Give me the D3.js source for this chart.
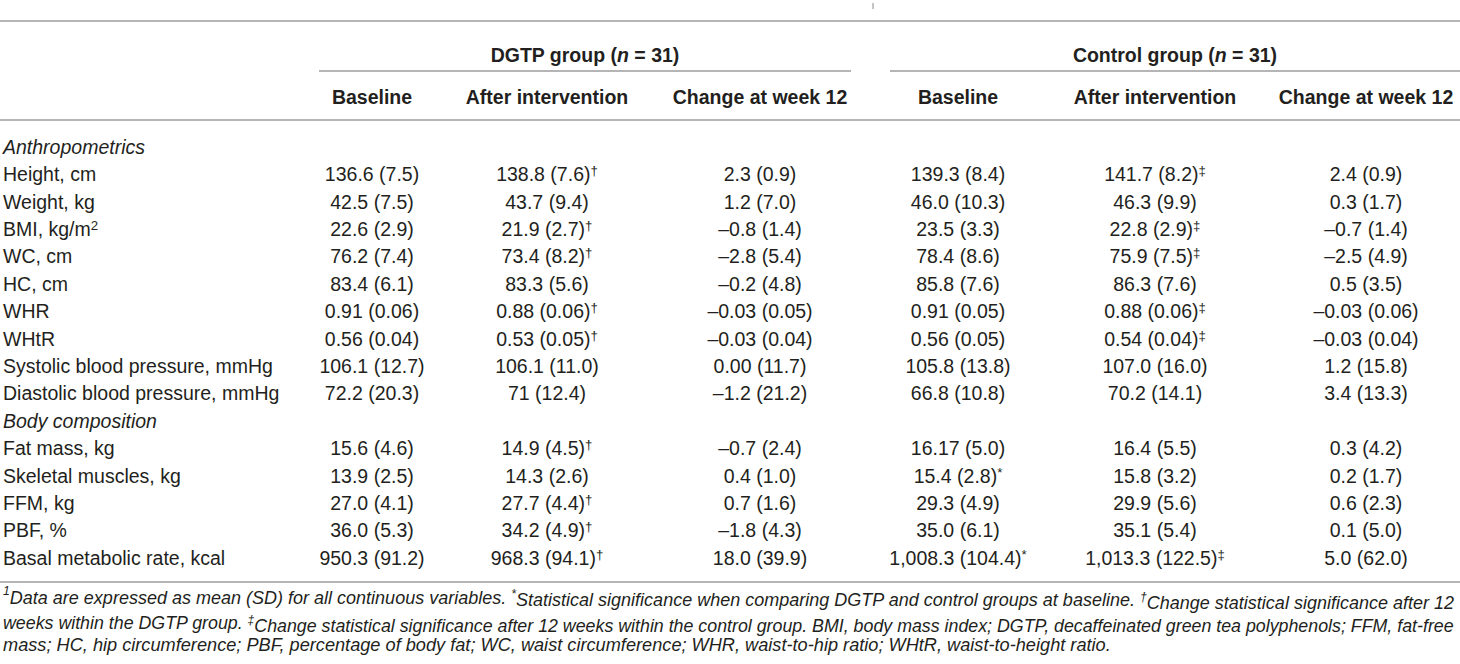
<!DOCTYPE html>
<html>
<head>
<meta charset="utf-8">
<script src="https://cdn.jsdelivr.net/npm/d3@7"></script>
<style>
  html, body { margin: 0; padding: 0; background: #fff; }
  svg { display: block; }
  text { font-family: "Liberation Sans", Arial, Helvetica, sans-serif; fill: #231f20; }
</style>
</head>
<body>
<svg id="chart" width="1460" height="664"></svg>
<script>
// ---------- DATA ----------
const groups = ["DGTP group", "Control group"];
const groupN = [31, 31];
const subHeaders = ["Baseline", "After intervention", "Change at week 12"];

const rowLabels = [
  {label: "Anthropometrics", type: "section"},
  {label: "Height, cm"},
  {label: "Weight, kg"},
  {label: "BMI, kg/m", sup: "2"},
  {label: "WC, cm"},
  {label: "HC, cm"},
  {label: "WHR"},
  {label: "WHtR"},
  {label: "Systolic blood pressure, mmHg"},
  {label: "Diastolic blood pressure, mmHg"},
  {label: "Body composition", type: "section"},
  {label: "Fat mass, kg"},
  {label: "Skeletal muscles, kg"},
  {label: "FFM, kg"},
  {label: "PBF, %"},
  {label: "Basal metabolic rate, kcal"}
];

// "mean (SD)" with optional significance mark after "|"
const dgtpBaseline = [null, "136.6 (7.5)", "42.5 (7.5)", "22.6 (2.9)", "76.2 (7.4)", "83.4 (6.1)", "0.91 (0.06)", "0.56 (0.04)", "106.1 (12.7)", "72.2 (20.3)",
  null, "15.6 (4.6)", "13.9 (2.5)", "27.0 (4.1)", "36.0 (5.3)", "950.3 (91.2)"];
const dgtpAfter = [null, "138.8 (7.6)|†", "43.7 (9.4)", "21.9 (2.7)|†", "73.4 (8.2)|†", "83.3 (5.6)", "0.88 (0.06)|†", "0.53 (0.05)|†", "106.1 (11.0)", "71 (12.4)",
  null, "14.9 (4.5)|†", "14.3 (2.6)", "27.7 (4.4)|†", "34.2 (4.9)|†", "968.3 (94.1)|†"];
const dgtpChange = [null, "2.3 (0.9)", "1.2 (7.0)", "–0.8 (1.4)", "–2.8 (5.4)", "–0.2 (4.8)", "–0.03 (0.05)", "–0.03 (0.04)", "0.00 (11.7)", "–1.2 (21.2)",
  null, "–0.7 (2.4)", "0.4 (1.0)", "0.7 (1.6)", "–1.8 (4.3)", "18.0 (39.9)"];
const ctrlBaseline = [null, "139.3 (8.4)", "46.0 (10.3)", "23.5 (3.3)", "78.4 (8.6)", "85.8 (7.6)", "0.91 (0.05)", "0.56 (0.05)", "105.8 (13.8)", "66.8 (10.8)",
  null, "16.17 (5.0)", "15.4 (2.8)|*", "29.3 (4.9)", "35.0 (6.1)", "1,008.3 (104.4)|*"];
const ctrlAfter = [null, "141.7 (8.2)|‡", "46.3 (9.9)", "22.8 (2.9)|‡", "75.9 (7.5)|‡", "86.3 (7.6)", "0.88 (0.06)|‡", "0.54 (0.04)|‡", "107.0 (16.0)", "70.2 (14.1)",
  null, "16.4 (5.5)", "15.8 (3.2)", "29.9 (5.6)", "35.1 (5.4)", "1,013.3 (122.5)|‡"];
const ctrlChange = [null, "2.4 (0.9)", "0.3 (1.7)", "–0.7 (1.4)", "–2.5 (4.9)", "0.5 (3.5)", "–0.03 (0.06)", "–0.03 (0.04)", "1.2 (15.8)", "3.4 (13.3)",
  null, "0.3 (4.2)", "0.2 (1.7)", "0.6 (2.3)", "0.1 (5.0)", "5.0 (62.0)"];

const columns = [dgtpBaseline, dgtpAfter, dgtpChange, ctrlBaseline, ctrlAfter, ctrlChange];

// footnote lines: segments [text, isSuperscript]
const footnotes = [
  [["1", true], ["Data are expressed as mean (SD) for all continuous variables. ", false], ["*", true], ["Statistical significance when comparing DGTP and control groups at baseline. ", false], ["†", true], ["Change statistical significance after 12", false]],
  [["weeks within the DGTP group. ", false], ["‡", true], ["Change statistical significance after 12 weeks within the control group. BMI, body mass index; DGTP, decaffeinated green tea polyphenols; FFM, fat-free", false]],
  [["mass; HC, hip circumference; PBF, percentage of body fat; WC, waist circumference; WHR, waist-to-hip ratio; WHtR, waist-to-height ratio.", false]]
];

// ---------- LAYOUT ----------
const W = 1460, H = 664;
const fontSize = 19.5;
const svg = d3.select("#chart");

const colX = d3.scaleOrdinal().domain(d3.range(6)).range([372, 547, 760, 958, 1155, 1366]);
const groupSpan = d3.scaleOrdinal().domain([0, 1]).range([[319, 851], [890, 1460]]);
const rowY = d3.scalePoint().domain(d3.range(rowLabels.length)).range([147, 558]);
const footY = d3.scalePoint().domain(d3.range(footnotes.length)).range([601, 645]);

const lineColor = "#9d9d9d";
function hline(x1, x2, y) {
  svg.append("line").attr("x1", x1).attr("x2", x2).attr("y1", y).attr("y2", y)
    .attr("stroke", lineColor).attr("stroke-width", 1.6);
}

// small remnant mark above the table
svg.append("line").attr("x1", 873).attr("x2", 873).attr("y1", 3).attr("y2", 9)
  .attr("stroke", "#8a8a8a").attr("stroke-width", 1);

// rules
hline(0, W, 21);
hline(0, W, 120);
hline(0, W, 582);
groups.forEach((g, i) => { const s = groupSpan(i); hline(s[0], s[1], 71); });

// group headers
groups.forEach((g, i) => {
  const s = groupSpan(i);
  const t = svg.append("text").attr("x", (s[0] + s[1]) / 2).attr("y", 55).attr("dy", "0.35em")
    .attr("text-anchor", "middle").attr("font-size", fontSize).attr("font-weight", "bold");
  t.append("tspan").text(g + " (");
  t.append("tspan").attr("font-style", "italic").text("n");
  t.append("tspan").text(" = " + groupN[i] + ")");
});

// sub headers
d3.range(6).forEach(c => {
  svg.append("text").attr("x", colX(c)).attr("y", 97).attr("dy", "0.35em")
    .attr("text-anchor", "middle").attr("font-size", fontSize).attr("font-weight", "bold")
    .text(subHeaders[c % 3]);
});

// row labels
rowLabels.forEach((r, i) => {
  const t = svg.append("text").attr("x", 3).attr("y", rowY(i)).attr("dy", "0.35em")
    .attr("font-size", fontSize).attr("font-style", r.type === "section" ? "italic" : null);
  t.append("tspan").text(r.label);
  if (r.sup) t.append("tspan").attr("dy", "-0.45em").attr("font-size", fontSize * 0.68).text(r.sup);
});

// cells
columns.forEach((col, c) => {
  col.forEach((v, i) => {
    if (v == null) return;
    const [main, mark] = v.split("|");
    const t = svg.append("text").attr("x", colX(c)).attr("y", rowY(i)).attr("dy", "0.35em")
      .attr("text-anchor", "middle").attr("font-size", fontSize);
    t.append("tspan").text(main);
    if (mark) t.append("tspan").attr("dy", "-0.45em").attr("font-size", fontSize * 0.68).text(mark);
  });
});

// footnotes (justified paragraph, condensed horizontally to fit the target widths)
const footSize = 18.5, supSize = 12.5;
const footWidths = [1452, 1452, 1109];
footnotes.forEach((segs, i) => {
  const g = svg.append("g");
  const t = g.append("text").attr("x", 0).attr("y", footY(i)).attr("dy", "0.35em")
    .attr("font-size", footSize).attr("font-style", "italic");
  let sup = false;
  segs.forEach(([txt, isSup]) => {
    const ts = t.append("tspan").text(txt);
    if (isSup && !sup) { ts.attr("dy", "-0.45em").attr("font-size", supSize); sup = true; }
    else if (!isSup && sup) { ts.attr("dy", "0.45em"); sup = false; }
    else if (isSup && sup) { ts.attr("font-size", supSize); }
  });
  const w = t.node().getComputedTextLength();
  g.attr("transform", `translate(3,0) scale(${footWidths[i] / w},1)`);
});
</script>
</body>
</html>
